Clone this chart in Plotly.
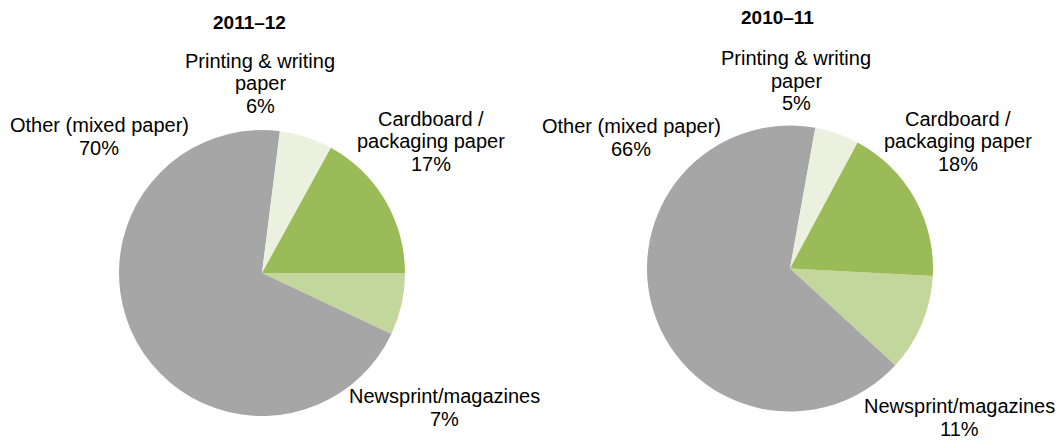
import plotly.graph_objects as go

# Paper recycling composition by type, two financial years.
# Slices are listed clockwise starting from 3 o'clock.
categories = ["Newsprint/magazines", "Other (mixed paper)",
              "Printing & writing|paper", "Cardboard /|packaging paper"]
share_2011_12 = [7, 70, 6, 17]
share_2010_11 = [11, 66, 5, 18]
years = ["2011–12", "2010–11"]
colors = ["#C3D69B", "#A6A6A6", "#EBF1DE", "#9BBB59"]

W, H = 1061, 440
FONT = "Liberation Sans, Arial, sans-serif"
LABEL_SIZE = 20
LINE_GAP = 22.5


def px_x(x):
    return x / W


def px_y(y):
    return 1 - y / H


def domain(cx, cy, r):
    return dict(x=[px_x(cx - r), px_x(cx + r)], y=[px_y(cy + r), px_y(cy - r)])


pies = [
    dict(values=share_2011_12, title=years[0], cx=262, cy=273, r=143, rot=90,
         title_pos=(249, 23),
         label_pos=[(444, 396), (99, 125), (260, 61), (431, 119)]),
    dict(values=share_2010_11, title=years[1], cx=790, cy=268.5, r=143, rot=93,
         title_pos=(777, 18),
         label_pos=[(959, 406), (631, 126), (796, 58), (958, 119)]),
]

fig = go.Figure()
annotations = []
for p in pies:
    fig.add_trace(go.Pie(
        labels=[c.replace("|", " ") for c in categories],
        values=p["values"],
        sort=False,
        direction="clockwise",
        rotation=p["rot"],
        marker=dict(colors=colors, line=dict(width=0)),
        textinfo="none",
        hoverinfo="label+percent",
        showlegend=False,
        domain=domain(p["cx"], p["cy"], p["r"]),
    ))
    tx, ty = p["title_pos"]
    annotations.append(dict(
        text="<b>%s</b>" % p["title"], x=px_x(tx), y=px_y(ty),
        xref="paper", yref="paper", xanchor="center", yanchor="middle",
        showarrow=False, font=dict(family=FONT, size=19, color="#000000"),
    ))
    for cat, val, (lx, ly) in zip(categories, p["values"], p["label_pos"]):
        lines = cat.split("|") + ["%d%%" % val]
        for i, line in enumerate(lines):
            annotations.append(dict(
                text=line, x=px_x(lx), y=px_y(ly + i * LINE_GAP),
                xref="paper", yref="paper", xanchor="center", yanchor="middle",
                borderpad=0, showarrow=False,
                font=dict(family=FONT, size=LABEL_SIZE, color="#000000"),
            ))

fig.update_layout(
    width=W, height=H,
    margin=dict(l=0, r=0, t=0, b=0),
    paper_bgcolor="white", plot_bgcolor="white",
    annotations=annotations,
)

fig.write_html("out.html")
